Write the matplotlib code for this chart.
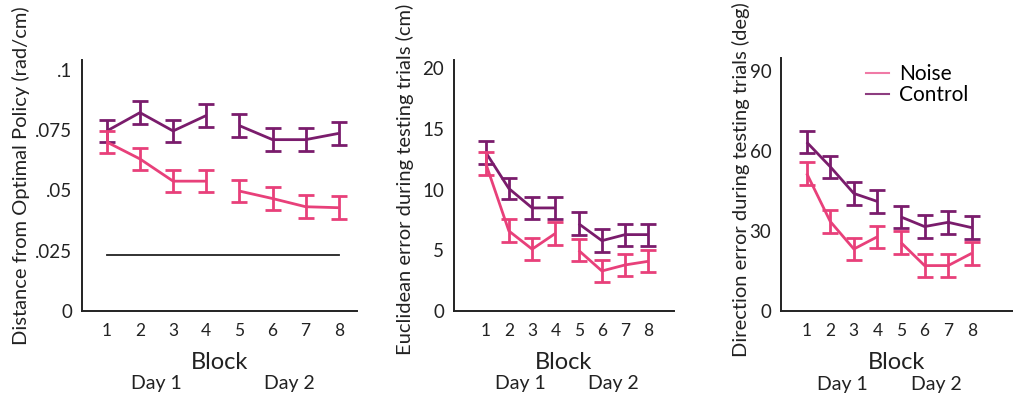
import numpy as np
import matplotlib
matplotlib.use("Agg")
import matplotlib.pyplot as plt
from matplotlib.lines import Line2D

plt.rcParams['font.family'] = ['Lato', 'DejaVu Sans']

blocks = [1, 2, 3, 4, 5, 6, 7, 8]
tick_labels = ['1', '2', '3', '4', '5', '6', '7', '8']

# Distance from optimal policy (rad/cm)
dist_noise = [0.0700, 0.0630, 0.0538, 0.0538, 0.0497, 0.0466, 0.0432, 0.0428]
dist_noise_err = [0.0047, 0.0047, 0.0047, 0.0047, 0.0047, 0.0047, 0.0047, 0.0047]
dist_control = [0.0746, 0.0822, 0.0746, 0.0810, 0.0768, 0.0710, 0.0710, 0.0736]
dist_control_err = [0.0047, 0.0047, 0.0047, 0.0047, 0.0047, 0.0047, 0.0047, 0.0047]
dist_reference = 0.0233

# Euclidean error during testing trials (cm)
eucl_noise = [12.2, 6.6, 5.1, 6.4, 5.0, 3.3, 3.8, 4.1]
eucl_noise_err = [0.95, 0.95, 0.9, 0.95, 0.9, 0.9, 0.9, 0.9]
eucl_control = [13.1, 10.1, 8.5, 8.5, 7.2, 5.8, 6.3, 6.3]
eucl_control_err = [0.95, 0.9, 0.9, 0.9, 0.95, 0.95, 0.9, 0.9]

# Direction error during testing trials (deg)
dir_noise = [51.5, 33.5, 23.2, 27.8, 25.6, 17.0, 17.0, 21.6]
dir_noise_err = [4.2, 4.2, 4.2, 4.2, 4.2, 4.2, 4.2, 4.2]
dir_control = [63.2, 54.0, 44.0, 41.0, 35.2, 31.6, 33.2, 31.2]
dir_control_err = [4.2, 4.2, 4.2, 4.2, 4.2, 4.2, 4.2, 4.2]

NOISE = '#e8407a'
CONTROL = '#7a1c6c'
TEXT = '#222222'

fig = plt.figure(figsize=(10.13, 3.98), dpi=100)
W, H = 1013, 398


def add_axes(x0, x1, y0, y1):
    return fig.add_axes([x0 / W, 1 - y1 / H, (x1 - x0) / W, (y1 - y0) / H])


def draw_series(ax, y, err, color):
    x = np.array(blocks)
    y = np.array(y)
    e = np.array(err)
    for sl in (slice(0, 4), slice(4, 8)):
        ax.plot(x[sl], y[sl], color=color, lw=2.0, solid_capstyle='butt', zorder=3)
    ax.errorbar(x, y, yerr=e, fmt='none', ecolor=color, elinewidth=2.0,
                capsize=6, capthick=2.0, zorder=3)


def style(ax, xlim, ylim, yticks, yticklabels, ylabel, label_xy):
    ax.set_xlim(*xlim)
    ax.set_ylim(*ylim)
    for s in ('top', 'right'):
        ax.spines[s].set_visible(False)
    for s in ('left', 'bottom'):
        ax.spines[s].set_linewidth(1.4)
        ax.spines[s].set_color(TEXT)
    ax.set_xticks(blocks)
    ax.set_xticklabels(tick_labels, fontsize=12.5, color=TEXT)
    ax.set_yticks(yticks)
    ax.set_yticklabels(yticklabels, fontsize=13.5, color=TEXT)
    ax.tick_params(length=0, pad=9)
    ax.tick_params(axis='y', pad=7)
    ax.set_ylabel(ylabel, fontsize=14.5, color=TEXT)
    ax.yaxis.set_label_coords(*label_xy)
    ax.set_xlabel('Block', fontsize=17, color=TEXT, labelpad=9)
    tr = ax.get_xaxis_transform()
    ax.text(2.5, -0.29, 'Day 1', transform=tr, ha='center', va='center',
            fontsize=14, color=TEXT)
    ax.text(6.5, -0.29, 'Day 2', transform=tr, ha='center', va='center',
            fontsize=14, color=TEXT)


# Panel 1
ax1 = add_axes(82, 357, 60, 311)
draw_series(ax1, dist_control, dist_control_err, CONTROL)
draw_series(ax1, dist_noise, dist_noise_err, NOISE)
ax1.plot([blocks[0], blocks[-1]], [dist_reference, dist_reference],
         color=TEXT, lw=1.3, zorder=2)
style(ax1, (0.25, 8.55), (0, 0.104), [0, 0.025, 0.05, 0.075, 0.1],
      ['0', '.025', '.05', '.075', '.1'],
      'Distance from Optimal Policy (rad/cm)', (-0.189, 0.54))

# Panel 2
ax2 = add_axes(454, 674, 60, 311)
draw_series(ax2, eucl_control, eucl_control_err, CONTROL)
draw_series(ax2, eucl_noise, eucl_noise_err, NOISE)
style(ax2, (-0.36, 9.1), (0, 20.7), [0, 5, 10, 15, 20],
      ['0', '5', '10', '15', '20'],
      'Euclidean error during testing trials (cm)', (-0.182, 0.525))

# Panel 3
ax3 = add_axes(781, 1013, 58, 311)
draw_series(ax3, dir_control, dir_control_err, CONTROL)
draw_series(ax3, dir_noise, dir_noise_err, NOISE)
style(ax3, (-0.09, 9.75), (0, 94.7), [0, 30, 60, 90],
      ['0', '30', '60', '90'],
      'Direction error during testing trials (deg)', (-0.134, 0.52))

handles = [Line2D([], [], color='#f07aa6', lw=1.5),
           Line2D([], [], color='#8d3d80', lw=1.5)]
ax3.legend(handles, ['Noise', 'Control'], loc='upper left',
           bbox_to_anchor=(0.33, 1.01), frameon=False, fontsize=15,
           handlelength=1.1, handletextpad=0.5, labelspacing=0.05,
           borderaxespad=0)

fig.savefig('out.png', dpi=100)
